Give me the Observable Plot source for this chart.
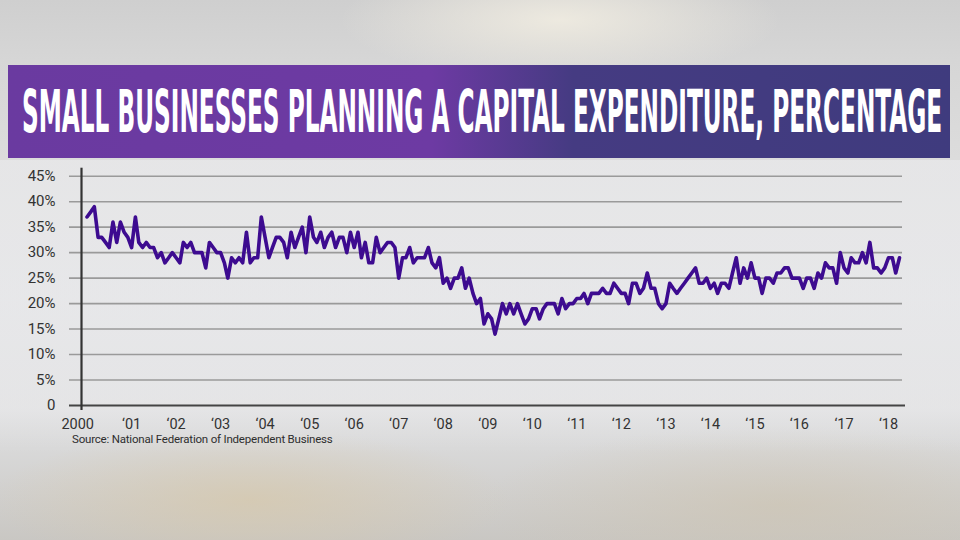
<!DOCTYPE html>
<html>
<head>
<meta charset="utf-8">
<script src="https://cdn.jsdelivr.net/npm/d3@7"></script>
<script src="https://cdn.jsdelivr.net/npm/@observablehq/plot@0.6"></script>
<style>
  html, body { margin: 0; padding: 0; }
  body { width: 960px; height: 540px; overflow: hidden; position: relative;
    background:
      radial-gradient(ellipse 220px 60px at 560px 20px, rgba(240,236,225,0.9), rgba(240,236,225,0) 100%),
      radial-gradient(ellipse 260px 70px at 250px 500px, rgba(215,200,170,0.7), rgba(215,200,170,0) 100%),
      radial-gradient(ellipse 300px 80px at 780px 505px, rgba(205,195,175,0.6), rgba(205,195,175,0) 100%),
      linear-gradient(to bottom, #cfcfcf 0px, #d6d6d6 60px, #dcdcdc 160px, #dfe0e2 300px, #d8d8d8 450px, #c9c7c3 540px);
    font-family: Roboto, "Noto Sans", sans-serif; }
  #panel { position: absolute; left: 0; top: 160px; width: 960px; height: 292px;
    background: linear-gradient(to bottom, rgba(236,236,238,0.6) 0, rgba(236,236,238,0.6) 85%, rgba(236,236,238,0) 100%); }
  #banner { position: absolute; left: 8px; top: 65px; width: 942px; height: 93px; overflow: hidden;
    background: linear-gradient(to right, #6a3aa0 0%, #6d3aa3 45%, #453b82 60%, #3f3b7e 100%); }
  #titleText { position: absolute; left: 14px; top: 14px; white-space: nowrap; color: #fff;
    font-family: "Liberation Sans Narrow", "DejaVu Sans Condensed", Roboto, sans-serif;
    font-weight: 700; font-size: 59px; line-height: 66px; transform-origin: 0 0; }
  #chart { position: absolute; left: 0; top: 160px; }
  #source { position: absolute; left: 72px; top: 432.5px; font-size: 11.5px; line-height: 12px; color: #2e2e2e;
    letter-spacing: -0.2px; white-space: nowrap; }
</style>
</head>
<body>
<div id="panel"></div>
<div id="banner"><div id="titleText"></div></div>
<div id="chart"></div>
<div id="source"></div>
<script>
const titleLabel = "SMALL BUSINESSES PLANNING A CAPITAL EXPENDITURE, PERCENTAGE";
const sourceLabel = "Source: National Federation of Independent Business";

// Monthly values, Jan 2000 – Apr 2018 (percent of small firms planning capital outlays)
const startYear = 2000;
const planningPct = [
  37, 38, 39, 33, 33, 32, 31, 36, 32, 36, 34, 33,   // 2000
  31, 37, 32, 31, 32, 31, 31, 29, 30, 28, 29, 30,   // 2001
  29, 28, 32, 31, 32, 30, 30, 30, 27, 32, 31, 30,   // 2002
  30, 28, 25, 29, 28, 29, 28, 34, 28, 29, 29, 37,   // 2003
  33, 29, 31, 33, 33, 32, 29, 34, 31, 33, 35, 30,   // 2004
  37, 33, 32, 34, 31, 33, 34, 31, 33, 33, 30, 34,   // 2005
  31, 34, 29, 32, 28, 28, 33, 30, 31, 32, 32, 31,   // 2006
  25, 29, 29, 31, 28, 29, 29, 29, 31, 28, 27, 29,   // 2007
  24, 25, 23, 25, 25, 27, 23, 25, 22, 20, 21, 16,   // 2008
  18, 17, 14, 17, 20, 18, 20, 18, 20, 18, 16, 17,   // 2009
  19, 19, 17, 19, 20, 20, 20, 18, 21, 19, 20, 20,   // 2010
  21, 21, 22, 20, 22, 22, 22, 23, 22, 22, 24, 23,   // 2011
  22, 22, 20, 24, 24, 22, 23, 26, 23, 23, 20, 19,   // 2012
  20, 24, 23, 22, 23, 24, 25, 26, 27, 24, 24, 25,   // 2013
  23, 24, 22, 24, 24, 23, 26, 29, 24, 27, 25, 28,   // 2014
  25, 25, 22, 25, 25, 24, 26, 26, 27, 27, 25, 25,   // 2015
  25, 23, 25, 25, 23, 26, 25, 28, 27, 27, 24, 30,   // 2016
  27, 26, 29, 28, 28, 30, 28, 32, 27, 27, 26, 27,   // 2017
  29, 29, 26, 29                                      // 2018 (Jan–Apr)
];

const yTicks = [0, 5, 10, 15, 20, 25, 30, 35, 40, 45];
const xTickYears = [2000, 2001, 2002, 2003, 2004, 2005, 2006, 2007, 2008, 2009,
                    2010, 2011, 2012, 2013, 2014, 2015, 2016, 2017, 2018];
const xTickLabels = ["2000", "\u201801", "\u201802", "\u201803", "\u201804", "\u201805", "\u201806",
                     "\u201807", "\u201808", "\u201809", "\u201810", "\u201811", "\u201812",
                     "\u201813", "\u201814", "\u201815", "\u201816", "\u201817", "\u201818"];

const titleEl = document.getElementById("titleText");
titleEl.textContent = titleLabel;
const natural = titleEl.scrollWidth;
titleEl.style.transform = `scaleX(${920 / natural})`;
document.getElementById("source").textContent = sourceLabel;

const series = planningPct.map((v, i) => ({date: new Date(Date.UTC(startYear, i, 1)), value: v}));
const ticks = xTickYears.map((y, i) => ({date: new Date(Date.UTC(y, 0, 1)), label: xTickLabels[i]}));
const xDomain = [series[0].date, series[series.length - 1].date];

const chart = Plot.plot({
  width: 960,
  height: 290,
  marginLeft: 81,
  marginRight: 58,
  marginTop: 15.7,
  marginBottom: 45,
  style: {background: "transparent", fontFamily: "Roboto, 'Noto Sans', sans-serif", overflow: "visible"},
  x: {type: "utc", domain: xDomain, insetLeft: 5.5, insetRight: 3, axis: null},
  y: {domain: [0, 45], axis: null},
  marks: [
    Plot.ruleY(yTicks.filter(d => d > 0), {stroke: "#9a9a9a", strokeWidth: 1.6, insetLeft: -12}),
    Plot.ruleY([0], {stroke: "#444", strokeWidth: 2.2, insetLeft: -12, insetRight: -3}),
    Plot.ruleX([xDomain[0]], {dx: -5.5, stroke: "#333", strokeWidth: 2.2, insetTop: -8, insetBottom: -5}),
    Plot.axisY({ticks: yTicks, label: null, tickSize: 0, tickPadding: 26, fontSize: 15, fill: "#333",
      tickFormat: d => d === 0 ? "0" : d + "%"}),
    Plot.text(ticks.slice(0, 1), {x: "date", y: () => 0, text: "label", dy: 19, dx: 7,
      textAnchor: "end", fontSize: 14.5, fill: "#333"}),
    Plot.text(ticks.slice(1), {x: "date", y: () => 0, text: "label", dy: 19,
      fontSize: 14.5, fill: "#333"}),
    Plot.line(series, {x: "date", y: "value", stroke: "#3d0b90", strokeWidth: 3.6,
      strokeLinejoin: "round", strokeLinecap: "round"})
  ]
});
document.getElementById("chart").appendChild(chart);
</script>
</body>
</html>
